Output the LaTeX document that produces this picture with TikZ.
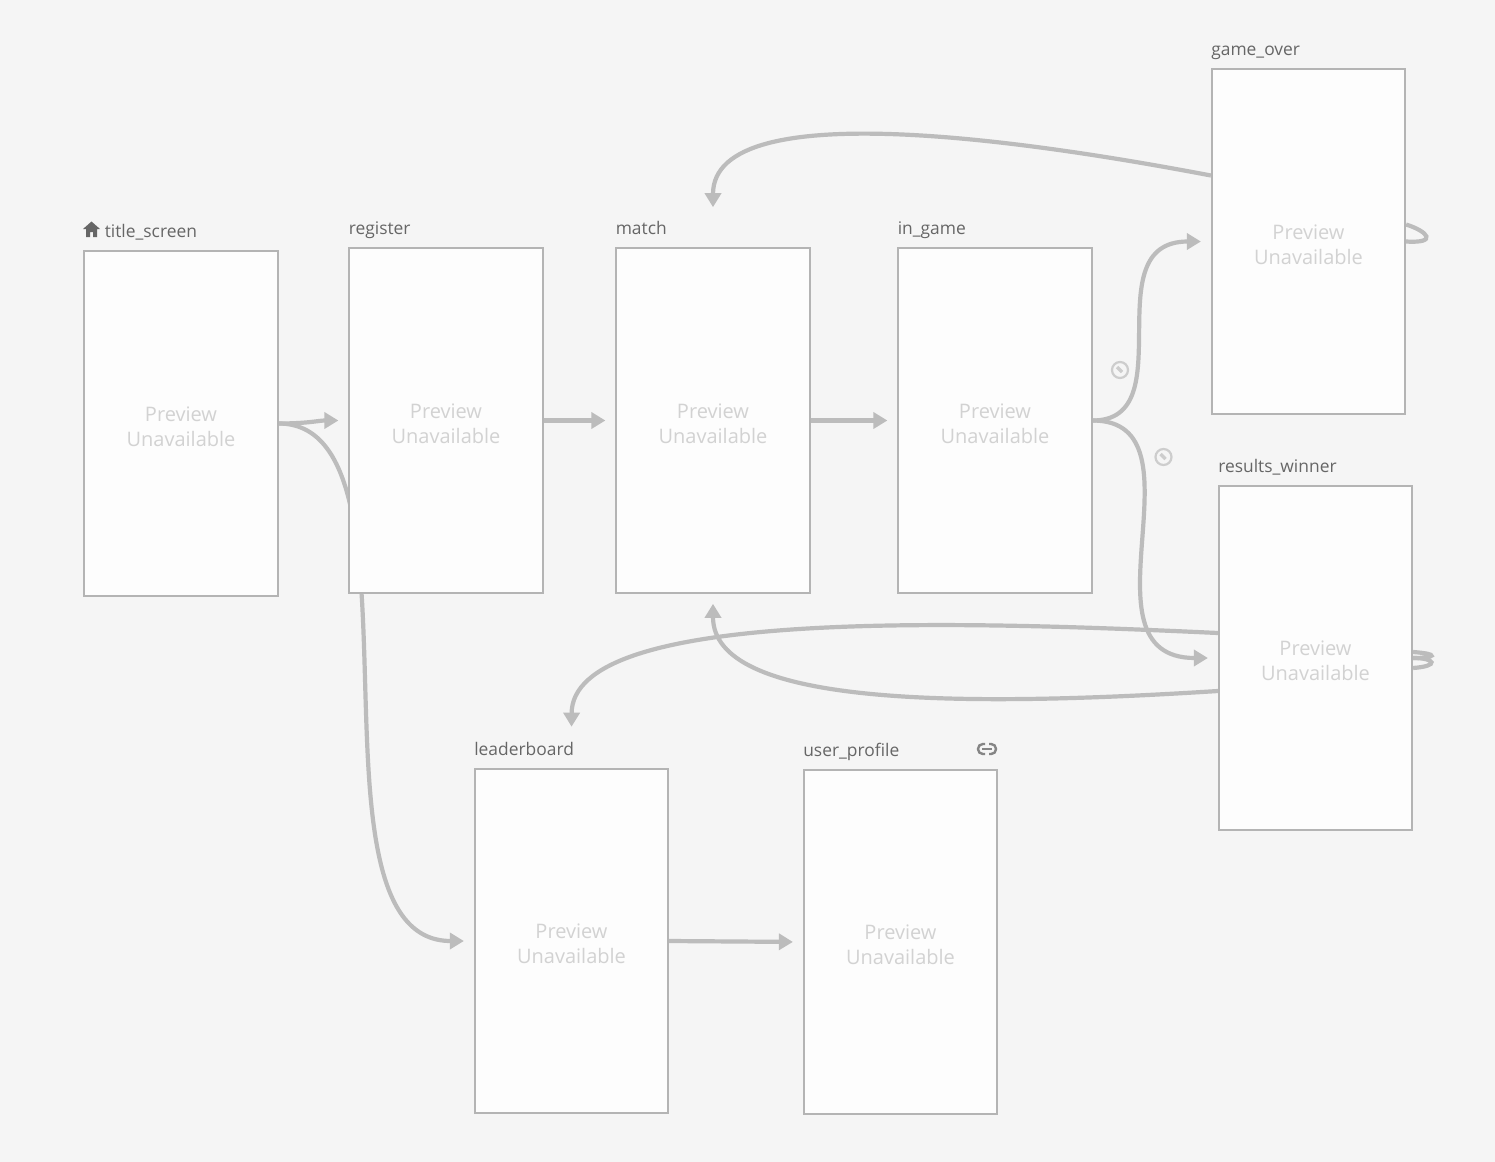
\documentclass[tikz,border=0pt]{standalone}
\usepackage{fontspec}
\setmainfont{Open Sans}
\usetikzlibrary{arrows.meta,backgrounds,calc}
\definecolor{pagebg}{HTML}{F5F5F5}
\definecolor{screenfill}{HTML}{FDFDFD}
\definecolor{screenline}{HTML}{B4B4B4}
\definecolor{flowline}{HTML}{BCBCBC}
\definecolor{labeltext}{HTML}{666666}
\definecolor{previewtext}{HTML}{D2D2D2}
\definecolor{badgeline}{HTML}{CDCDCD}
\tikzset{
  screen/.style={draw=screenline,fill=screenfill,line width=1pt,minimum width=96.6pt,minimum height=172.3pt,inner sep=0pt},
  previewnote/.style={inner sep=0pt,align=center,text=previewtext,font=\fontsize{10}{12.6}\selectfont},
  screenlabel/.style={anchor=base west,inner sep=0pt,text=labeltext,font=\fontsize{8.7}{10}\selectfont},
  flow/.style={draw=flowline,line width=2.1pt,-{Triangle[length=7pt,width=8pt]},shorten >=5pt},
  loopflow/.style={draw=flowline,line width=2.1pt},
  badge/.style={circle,draw=badgeline,line width=1.1pt,minimum size=8pt,inner sep=0pt},
}
\begin{document}
\begin{tikzpicture}[x=0.5pt,y=-0.5pt]
    \foreach \name/\x/\y/\dx/\txt in {title_screen/181/423.5/21/title\_screen,register/446/420.5/0/register,
      match/713/420.5/0/match,in_game/995/420.5/0/in\_game,game_over/1308.5/241.5/0/game\_over,
      results_winner/1315.5/658/0/results\_winner,leaderboard/571.5/941/0/leaderboard,user_profile/900.5/942/0/user\_profile} {
      \node[screen] (\name) at (\x,\y) {};
      \node[previewnote] (\name_note) at ($(\name.center)+(0,3)$) {Preview\\Unavailable};
      \node[screenlabel] (\name_label) at ($(\name.north west)+(\dx,-12.5)$) {\txt};
    }
    \coordinate (over_start) at ($(game_over.west)+(0,-66)$);
    \coordinate (winner_top) at ($(results_winner.west)+(0,-25)$);
    \coordinate (winner_low) at ($(results_winner.west)+(0,33)$);
    \coordinate (match_top) at ($(match.north)+(0,-30)$);
    \coordinate (leader_top) at ($(leaderboard.north)+(0,-31)$);
    \begin{pgfonlayer}{background}
      \fill[pagebg] (0,0) rectangle (1495,1162);
      \path[use as bounding box] (0,0) rectangle (1495,1162);
      \draw[flow] (title_screen.east) .. controls +(30,0) and +(-30,0) .. (register.west);
      \draw[flow] (title_screen.east) .. controls +(158,0) and +(-180,0) .. (leaderboard.west);
      \draw[flow] (register.east) -- (match.west);
      \draw[flow] (match.east) -- (in_game.west);
      \draw[flow] (leaderboard.east) -- (user_profile.west);
      \draw[flow] (in_game.east) .. controls +(92,0) and +(-118,0) .. (game_over.west);
      \draw[flow] (in_game.east) .. controls +(118,0) and +(-145,0) .. (results_winner.west);
      \draw[flow] (over_start) .. controls (1040,143) and (713,92) .. (match_top);
      \draw[flow] (winner_top) .. controls (940,620) and (572,610) .. (leader_top);
      \draw[flow] (winner_low) .. controls (950,708) and (713,705) .. (match.south);
      \draw[loopflow] ([yshift=8.5pt]game_over.east) .. controls +(22,7) and +(32,2) .. (game_over.east);
      \draw[loopflow] ([yshift=3pt]results_winner.east) .. controls +(27,2) and +(22,0) .. (results_winner.east);
      \draw[loopflow] ([yshift=-5pt]results_winner.east) .. controls +(27,-2) and +(22,0) .. (results_winner.east);
    \end{pgfonlayer}
    \fill[labeltext] (83,229) -- (91.5,221.5) -- (100,229) -- (97,229) -- (97,237) -- (93,237) -- (93,232) -- (90,232) -- (90,237) -- (86,237) -- (86,229) -- cycle;
    \draw[labeltext!80,line width=1.2pt,rounded corners=2.4pt] (985,744) -- (978,744) -- (978,754) -- (985,754);
    \draw[labeltext!80,line width=1.2pt,rounded corners=2.4pt] (989,744) -- (996,744) -- (996,754) -- (989,754);
    \draw[labeltext!80,line width=1.2pt] (982,749) -- (992,749);
    \node[badge] (wrench_upper) at (1120,370) {};
    \node[badge] (wrench_lower) at (1163.5,457) {};
    \foreach \name in {wrench_upper,wrench_lower}
      \draw[badgeline,line width=1.6pt] ($(\name)+(-3,-3)$) -- ($(\name)+(2,2)$);
\end{tikzpicture}
\end{document}
